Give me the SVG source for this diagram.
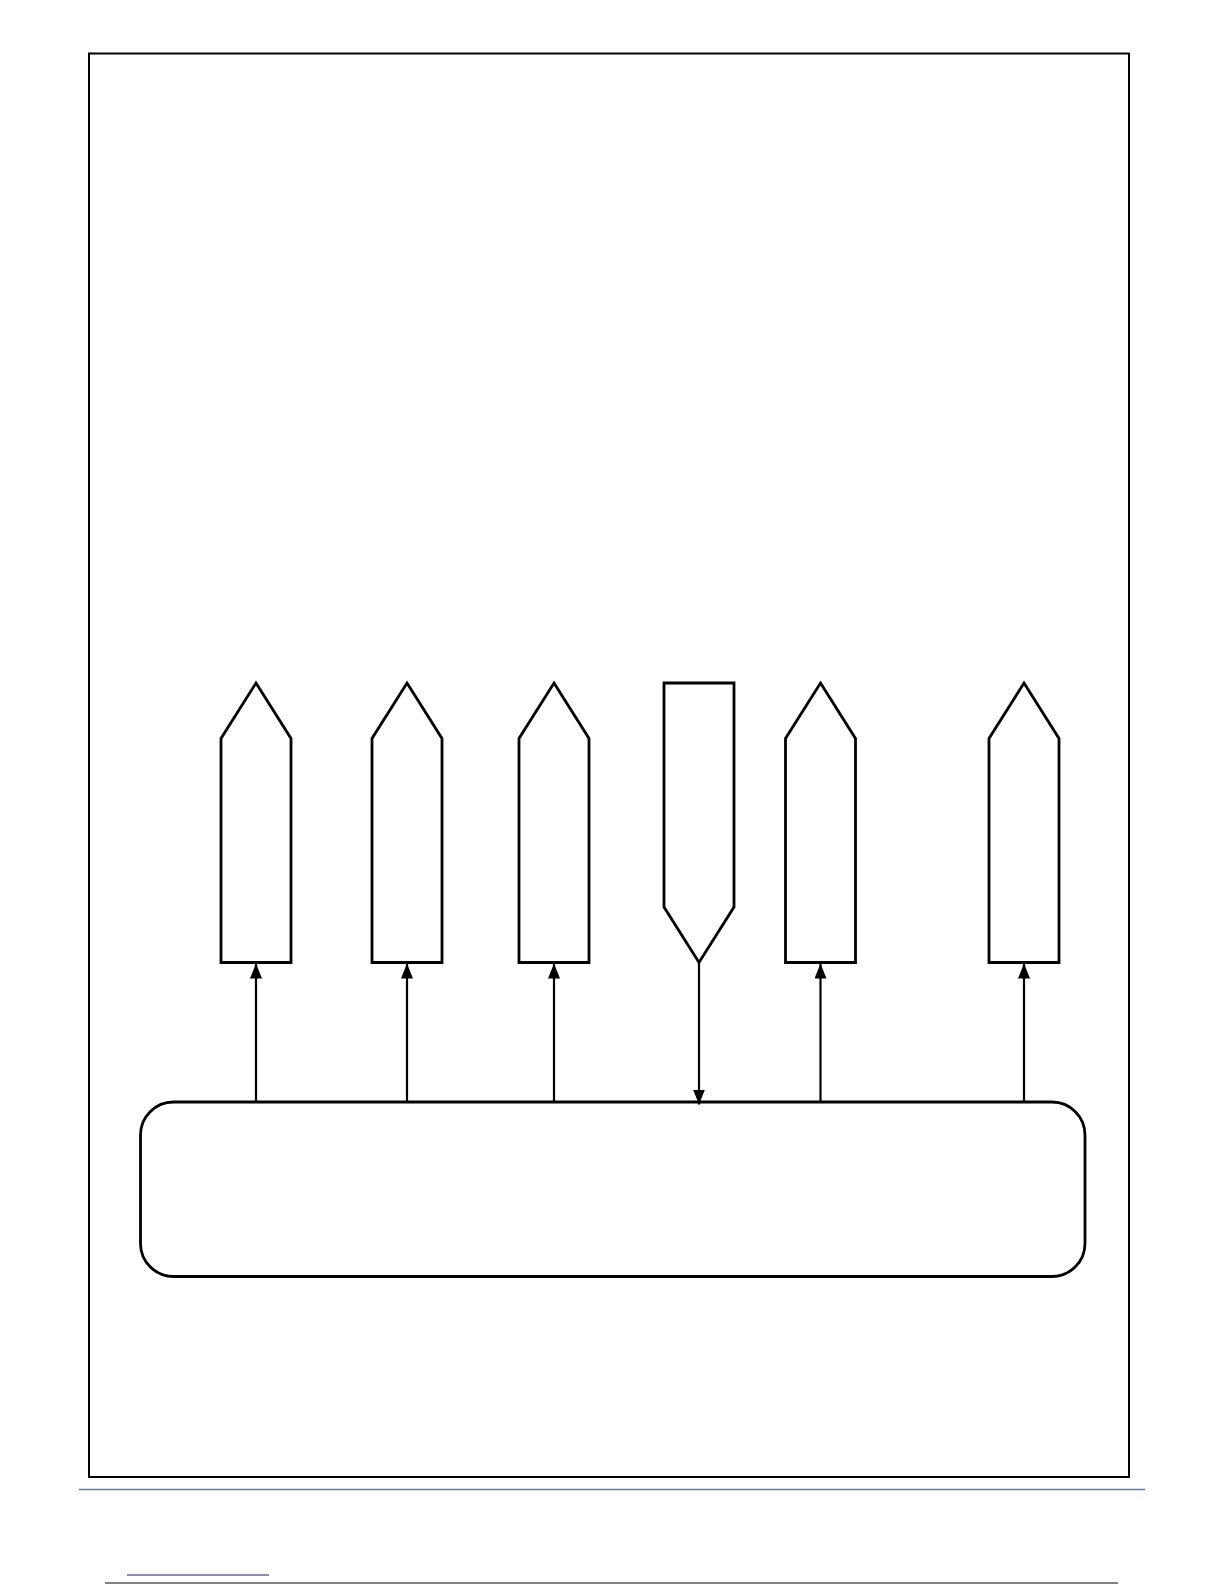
<svg xmlns="http://www.w3.org/2000/svg" width="1224" height="1584" viewBox="0 0 1224 1584">
<style>
.shape{fill:#ffffff;stroke:#000000;stroke-width:2.8;stroke-linejoin:miter}
.conn{stroke:#000000;stroke-width:2.2;fill:none}
</style>
<defs>
<marker id="ah" viewBox="0 0 15 12" refX="15" refY="6" markerWidth="15" markerHeight="12" markerUnits="userSpaceOnUse" orient="auto">
<path d="M0,0 L15,6 L0,12 Z" fill="#000000"/>
</marker>
</defs>
<rect x="0" y="0" width="1224" height="1584" fill="#ffffff"/>
<rect id="frame" x="89" y="53.5" width="1040" height="1423.5" fill="none" stroke="#000000" stroke-width="2"/>
<g id="node1"><polygon class="shape" points="256,683 291,738.5 291,962.5 221,962.5 221,738.5"/></g>
<g id="node2"><polygon class="shape" points="407,683 442,738.5 442,962.5 372,962.5 372,738.5"/></g>
<g id="node3"><polygon class="shape" points="554,683 589,738.5 589,962.5 519,962.5 519,738.5"/></g>
<g id="node4"><polygon class="shape" points="664,683 734,683 734,907 699,962.5 664,907"/></g>
<g id="node5"><polygon class="shape" points="820.5,683 855.5,738.5 855.5,962.5 785.5,962.5 785.5,738.5"/></g>
<g id="node6"><polygon class="shape" points="1024,683 1059,738.5 1059,962.5 989,962.5 989,738.5"/></g>
<g id="base"><rect class="shape" x="140.5" y="1102" width="944.5" height="174.5" rx="33" ry="33"/></g>
<g id="connectors">
<line class="conn" x1="256" y1="1102" x2="256" y2="963.5" marker-end="url(#ah)"/>
<line class="conn" x1="407" y1="1102" x2="407" y2="963.5" marker-end="url(#ah)"/>
<line class="conn" x1="554" y1="1102" x2="554" y2="963.5" marker-end="url(#ah)"/>
<line class="conn" x1="699" y1="963" x2="699" y2="1104.5" marker-end="url(#ah)"/>
<line class="conn" x1="820.5" y1="1102" x2="820.5" y2="963.5" marker-end="url(#ah)"/>
<line class="conn" x1="1024" y1="1102" x2="1024" y2="963.5" marker-end="url(#ah)"/>
</g>
<line x1="79" y1="1489.5" x2="1145" y2="1489.5" stroke="#5f8097" stroke-width="1.5"/>
<line x1="127" y1="1575" x2="269" y2="1575" stroke="#1a1a7a" stroke-width="1.2"/>
<line x1="105" y1="1583" x2="1118" y2="1583" stroke="#000000" stroke-width="1.2"/>
</svg>
